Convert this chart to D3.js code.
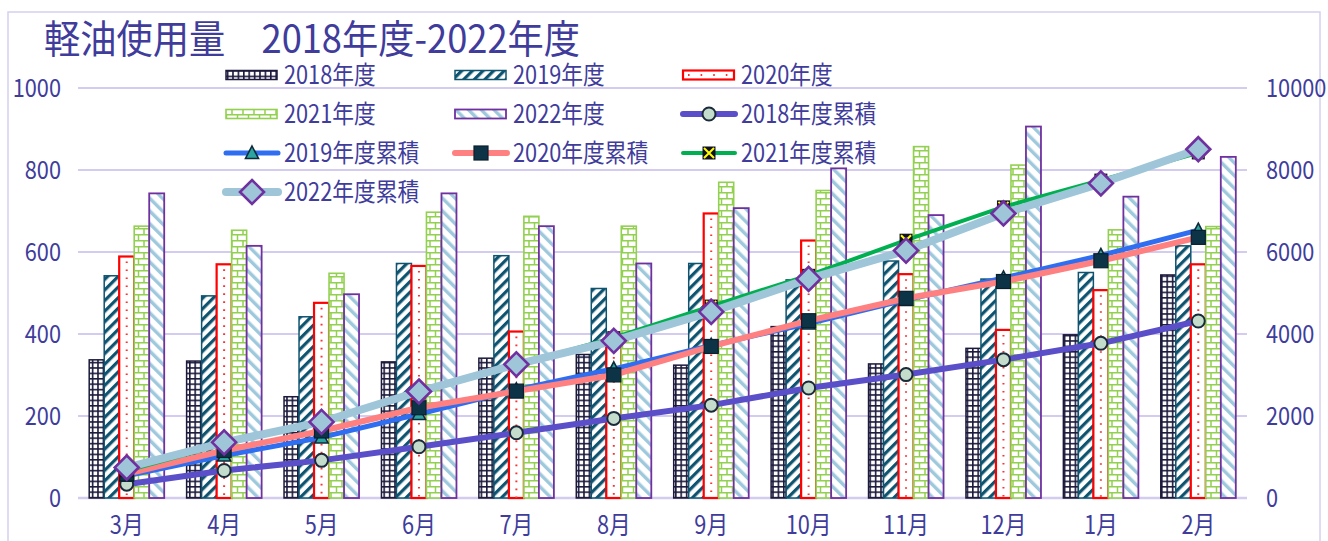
<!DOCTYPE html>
<html><head><meta charset="utf-8">
<script src="https://cdn.jsdelivr.net/npm/d3@7"></script>
<style>
body{margin:0;background:#fff;}
svg{display:block;}
text{font-family:"Noto Sans CJK JP","Noto Sans",sans-serif;fill:#403c9c;}
</style></head>
<body>
<svg id="chart" width="1328" height="541"></svg>
<script>
const title = "軽油使用量　2018年度-2022年度";
const months = ["3月","4月","5月","6月","7月","8月","9月","10月","11月","12月","1月","2月"];
const barNames = ["2018年度","2019年度","2020年度","2021年度","2022年度"];
const bar2018 = [337,334,247,332,341,350,324,418,327,365,398,544];
const bar2019 = [542,493,442,572,591,511,572,532,578,534,550,615];
const bar2020 = [589,570,476,566,406,395,694,628,546,410,507,570];
const bar2021 = [663,653,548,697,687,663,770,750,857,812,654,662];
const bar2022 = [743,615,497,743,663,572,707,804,690,906,735,832];
const lineNames = ["2018年度累積","2019年度累積","2020年度累積","2021年度累積","2022年度累積"];
const cum2018 = [337,671,918,1250,1591,1941,2265,2683,3010,3375,3773,4317];
const cum2019 = [542,1035,1477,2049,2640,3151,3723,4255,4833,5367,5917,6532];
const cum2020 = [589,1159,1635,2201,2607,3002,3696,4324,4870,5280,5787,6357];
const cum2021 = [663,1316,1864,2561,3248,3911,4681,5431,6288,7100,7754,8416];
const cum2022 = [743,1358,1855,2598,3261,3833,4540,5344,6034,6940,7675,8507];
const leftTicks = [0,200,400,600,800,1000];
const rightTicks = [0,2000,4000,6000,8000,10000];

const barData = [bar2018,bar2019,bar2020,bar2021,bar2022];
const cumData = [cum2018,cum2019,cum2020,cum2021,cum2022];

const FS = 25, SX = 0.87;

const svg = d3.select("#chart");
const defs = svg.append("defs");

// patterns
const p18 = defs.append("pattern").attr("id","p18").attr("patternUnits","userSpaceOnUse").attr("width",5.4).attr("height",5.4);
p18.append("rect").attr("width",5.4).attr("height",5.4).attr("fill","#fff");
p18.append("path").attr("d","M0,0.8H5.4M0.8,0V5.4").attr("stroke","#1c1a3c").attr("stroke-width",1.6);

const p19 = defs.append("pattern").attr("id","p19").attr("patternUnits","userSpaceOnUse").attr("width",7.5).attr("height",7.5).attr("patternTransform","rotate(45)");
p19.append("rect").attr("width",7.5).attr("height",7.5).attr("fill","#fff");
p19.append("rect").attr("x",0).attr("width",3.2).attr("height",7.5).attr("fill","#0e5470");

const p21 = defs.append("pattern").attr("id","p21").attr("patternUnits","userSpaceOnUse").attr("width",11).attr("height",12);
p21.append("rect").attr("width",11).attr("height",12).attr("fill","#fff");
p21.append("path").attr("d","M0,0.75H11M0,6.75H11M1,0V6.75M6.5,6.75V12").attr("stroke","#92d050").attr("stroke-width",1.5);

const p22 = defs.append("pattern").attr("id","p22").attr("patternUnits","userSpaceOnUse").attr("width",9).attr("height",9).attr("patternTransform","rotate(-45)");
p22.append("rect").attr("width",9).attr("height",9).attr("fill","#fff");
p22.append("rect").attr("x",0).attr("width",3.4).attr("height",9).attr("fill","#9ec8dc");

const barStyles = [
  {fill:"url(#p18)", stroke:"#1c1a3c", sw:1.5},
  {fill:"url(#p19)", stroke:"#0e5470", sw:1.5},
  {fill:"#fff", stroke:"#ff0000", sw:2.2},
  {fill:"url(#p21)", stroke:"#92d050", sw:1.6},
  {fill:"url(#p22)", stroke:"#7030a0", sw:1.8}
];
const lineStyles = [
  {color:"#5a4fc8", w:6, marker:"circle"},
  {color:"#2f6ef0", w:5, marker:"triangle"},
  {color:"#ff8080", w:6, marker:"square"},
  {color:"#00b050", w:4, marker:"x"},
  {color:"#9ec5d8", w:8, marker:"diamond"}
];

// frame
svg.append("rect").attr("x",8).attr("y",12).attr("width",1312).attr("height",540)
  .attr("fill","none").attr("stroke","#d4d0f0").attr("stroke-width",1.5);

// scales
const x0 = d3.scaleBand().domain(months).range([78,1247]).paddingInner(0).paddingOuter(0);
const groupW = x0.bandwidth()*0.77;
const x1 = d3.scaleBand().domain(barNames).range([0,groupW]);
const y = d3.scaleLinear().domain([0,1000]).range([498,88]);
const y2 = d3.scaleLinear().domain([0,10000]).range([498,88]);
const cx = m => x0(m) + x0.bandwidth()/2;

// gridlines
svg.append("g").selectAll("line").data(leftTicks).join("line")
  .attr("x1",78).attr("x2",1247).attr("y1",d=>y(d)).attr("y2",d=>y(d))
  .attr("stroke","#d4ccf0").attr("stroke-width",d=>d===0?2.5:2);

// axes
function styleAxisText(sel){
  sel.attr("font-size",FS).attr("fill","#403c9c").attr("font-family",null);
}
const la = svg.append("g").attr("transform","translate(61,0)")
  .call(d3.axisLeft(y).tickValues(leftTicks).tickSize(0).tickPadding(0).tickFormat(d3.format("d")));
la.select(".domain").remove();
la.selectAll("text").call(styleAxisText).attr("x",0).attr("dy","0.35em").attr("transform",`scale(${SX},1)`);

const ra = svg.append("g").attr("transform","translate(1266,0)")
  .call(d3.axisRight(y2).tickValues(rightTicks).tickSize(0).tickPadding(0).tickFormat(d3.format("d")));
ra.select(".domain").remove();
ra.selectAll("text").call(styleAxisText).attr("x",0).attr("dy","0.35em").attr("transform",`scale(${SX},1)`);

const xa = svg.append("g").attr("transform","translate(0,498)")
  .call(d3.axisBottom(x0).tickSize(0).tickPadding(0));
xa.select(".domain").remove();
xa.selectAll("text").call(styleAxisText).attr("dy","0").attr("y",36).attr("transform",`scale(${SX},1)`);

// bars
barData.forEach((vals,si)=>{
  const st = barStyles[si];
  const g = svg.append("g");
  const d = vals.map((v,i)=>({m:months[i],v}));
  g.selectAll("rect").data(d).join("rect")
    .attr("x",e=>cx(e.m)-groupW/2+x1(barNames[si]))
    .attr("y",e=>y(e.v))
    .attr("width",x1.bandwidth())
    .attr("height",e=>y(0)-y(e.v))
    .attr("fill",st.fill).attr("stroke",st.stroke).attr("stroke-width",st.sw);
  if(si===2){
    g.selectAll("line.dots").data(d).join("line")
      .attr("class","dots")
      .attr("x1",e=>cx(e.m)-groupW/2+x1(barNames[si])+x1.bandwidth()/2)
      .attr("x2",e=>cx(e.m)-groupW/2+x1(barNames[si])+x1.bandwidth()/2)
      .attr("y1",e=>y(e.v)+5).attr("y2",498)
      .attr("stroke","#ff3030").attr("stroke-width",2).attr("stroke-dasharray","1.6,6.4");
  }
});

// markers
function drawMarker(g, type, px, py){
  if(type==="circle"){
    g.append("circle").attr("cx",px).attr("cy",py).attr("r",6.5).attr("fill","#c4dccc").attr("stroke","#1a2a3a").attr("stroke-width",2);
  } else if(type==="triangle"){
    g.append("path").attr("d",`M${px},${py-7}L${px+6.5},${py+5.5}L${px-6.5},${py+5.5}Z`).attr("fill","#2ca5a0").attr("stroke","#0e2a3a").attr("stroke-width",1.6);
  } else if(type==="square"){
    g.append("rect").attr("x",px-7).attr("y",py-7).attr("width",14).attr("height",14).attr("fill","#0d3347").attr("stroke","#0a1f2e").attr("stroke-width",1.2);
  } else if(type==="x"){
    g.append("rect").attr("x",px-6.5).attr("y",py-6.5).attr("width",13).attr("height",13).attr("fill","#111122");
    g.append("path").attr("d",`M${px-5},${py-5}L${px+5},${py+5}M${px+5},${py-5}L${px-5},${py+5}`).attr("stroke","#ffff00").attr("stroke-width",2);
  } else if(type==="diamond"){
    g.append("path").attr("d",`M${px},${py-12}L${px+12},${py}L${px},${py+12}L${px-12},${py}Z`).attr("fill","#9ec5d8").attr("stroke","#7030a0").attr("stroke-width",2.6);
  }
}

// lines
cumData.forEach((vals,si)=>{
  const st = lineStyles[si];
  const g = svg.append("g");
  const pts = vals.map((v,i)=>[cx(months[i]), y2(v)]);
  g.append("path").attr("d",d3.line()(pts)).attr("fill","none").attr("stroke",st.color).attr("stroke-width",st.w).attr("stroke-linejoin","round");
  pts.forEach(p=>drawMarker(g, st.marker, p[0], p[1]));
});

// title
svg.append("text").attr("x",44).attr("y",53).attr("font-size",39)
  .attr("transform",`translate(44,0) scale(0.93,1) translate(-44,0)`).text(title);

// legend
const legItems = barNames.map((n,i)=>({name:n,type:"bar",i})).concat(lineNames.map((n,i)=>({name:n,type:"line",i})));
const colX = [226,455,683];
const rowY = [75,114,153,192];
legItems.forEach((it,k)=>{
  const col = k%3, row = Math.floor(k/3);
  const lx = colX[col], ly = rowY[row];
  const g = svg.append("g");
  if(it.type==="bar"){
    const st = barStyles[it.i];
    g.append("rect").attr("x",lx).attr("y",ly-4.5).attr("width",51).attr("height",9)
      .attr("fill",st.fill).attr("stroke",st.stroke).attr("stroke-width",st.sw);
    if(it.i===2){
      g.append("line").attr("x1",lx+5).attr("x2",lx+51).attr("y1",ly).attr("y2",ly)
        .attr("stroke","#ff3030").attr("stroke-width",2).attr("stroke-dasharray","1.6,11");
    }
  } else {
    const st = lineStyles[it.i];
    g.append("line").attr("x1",lx).attr("x2",lx+52).attr("y1",ly).attr("y2",ly)
      .attr("stroke",st.color).attr("stroke-width",st.w).attr("stroke-linecap","round");
    drawMarker(g, st.marker, lx+26, ly);
  }
  const tx = lx+58;
  g.append("text").attr("x",tx).attr("y",ly).attr("dy","0.35em").attr("font-size",FS)
    .attr("transform",`translate(${tx},0) scale(${SX},1) translate(${-tx},0)`).text(it.name);
});
</script>
</body></html>
